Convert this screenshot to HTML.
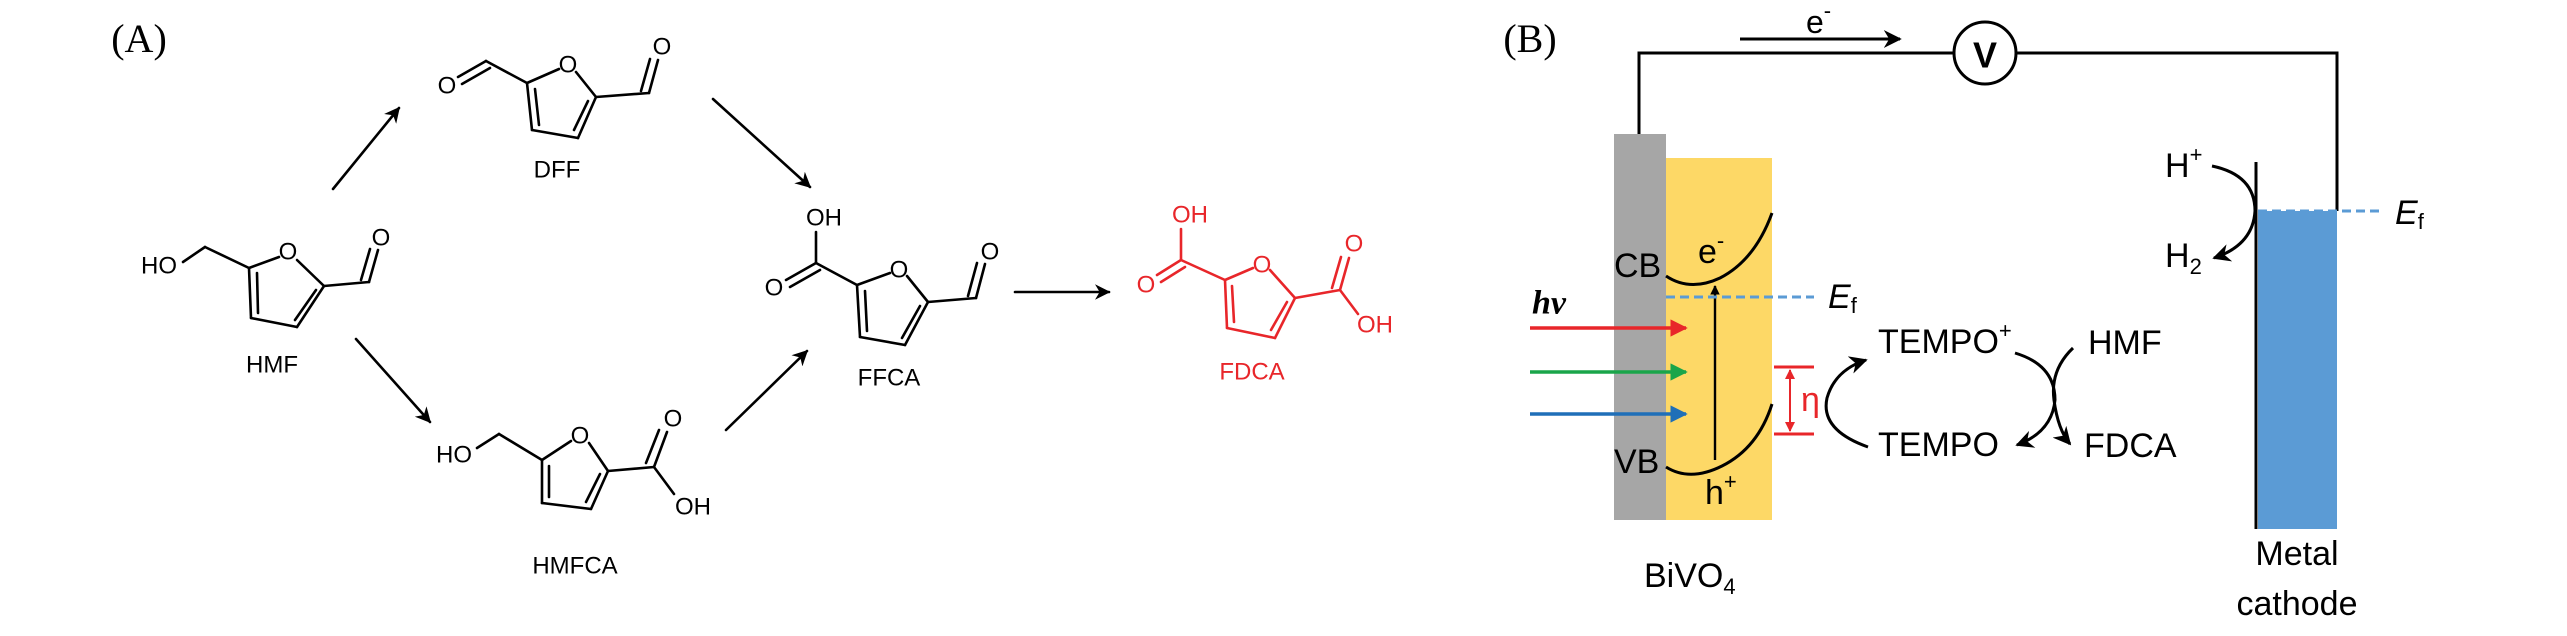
<!DOCTYPE html>
<html><head><meta charset="utf-8"><style>
html,body{margin:0;padding:0;background:#fff;}
svg{display:block;}
text{font-family:"Liberation Sans",sans-serif;}
</style></head><body>
<svg width="2567" height="636" viewBox="0 0 2567 636" xmlns="http://www.w3.org/2000/svg">
<defs>
<marker id="ah" viewBox="0 0 10 10" refX="9" refY="5" markerWidth="6" markerHeight="6" orient="auto-start-reverse" markerUnits="strokeWidth"><path d="M0,0 L10,5 L0,10 L3,5 z" fill="#000"/></marker>
<marker id="ahr" viewBox="0 0 10 10" refX="9" refY="5" markerWidth="5" markerHeight="5" orient="auto-start-reverse" markerUnits="strokeWidth"><path d="M0,0 L10,5 L0,10 z" fill="#e8262a"/></marker>
<marker id="ahg" viewBox="0 0 10 10" refX="9" refY="5" markerWidth="5" markerHeight="5" orient="auto" markerUnits="strokeWidth"><path d="M0,0 L10,5 L0,10 z" fill="#1aa54a"/></marker>
<marker id="ahb" viewBox="0 0 10 10" refX="9" refY="5" markerWidth="5" markerHeight="5" orient="auto" markerUnits="strokeWidth"><path d="M0,0 L10,5 L0,10 z" fill="#1f6fb8"/></marker>
<marker id="ahs" viewBox="0 0 10 10" refX="9" refY="5" markerWidth="4" markerHeight="4" orient="auto" markerUnits="strokeWidth"><path d="M0,0 L10,5 L0,10 z" fill="#000"/></marker>
</defs>

<!-- Panel A -->
<text x="139" y="52" font-size="40" text-anchor="middle" style="font-family:'Liberation Serif',serif">(A)</text>

<g stroke="#000" stroke-width="2.6" fill="none" stroke-linecap="round">
<!-- HMF -->
<line x1="249" y1="268" x2="279" y2="257"/><line x1="297" y1="260" x2="324" y2="286"/>
<line x1="324" y1="286" x2="297" y2="327"/><line x1="316" y1="290" x2="295" y2="320"/>
<line x1="297" y1="327" x2="251" y2="318"/><line x1="251" y1="318" x2="249" y2="268"/><line x1="258" y1="313" x2="257" y2="273"/>
<line x1="249" y1="268" x2="205" y2="247"/><line x1="205" y1="247" x2="183" y2="262"/>
<line x1="324" y1="286" x2="369" y2="282"/><line x1="369" y1="282" x2="378" y2="250"/><line x1="361" y1="280" x2="370" y2="249"/>
<!-- DFF -->
<line x1="527" y1="83" x2="559" y2="69"/><line x1="576" y1="72" x2="596" y2="97"/>
<line x1="596" y1="97" x2="578" y2="138"/><line x1="588" y1="101" x2="574" y2="130"/>
<line x1="578" y1="138" x2="532" y2="130"/><line x1="532" y1="130" x2="527" y2="83"/><line x1="539" y1="125" x2="535" y2="89"/>
<line x1="527" y1="83" x2="486" y2="61"/><line x1="486" y1="61" x2="458" y2="77"/><line x1="490" y1="68" x2="462" y2="84"/>
<line x1="596" y1="97" x2="649" y2="93"/><line x1="649" y1="93" x2="658" y2="60"/><line x1="641" y1="91" x2="650" y2="59"/>
<!-- HMFCA -->
<line x1="542" y1="460" x2="571" y2="441"/><line x1="589" y1="443" x2="608" y2="471"/>
<line x1="608" y1="471" x2="591" y2="509"/><line x1="600" y1="474" x2="586" y2="502"/>
<line x1="591" y1="509" x2="542" y2="503"/><line x1="542" y1="503" x2="542" y2="460"/><line x1="549" y1="497" x2="549" y2="466"/>
<line x1="542" y1="460" x2="499" y2="434"/><line x1="499" y1="434" x2="477" y2="448"/>
<line x1="608" y1="471" x2="654" y2="467"/><line x1="654" y1="467" x2="667" y2="432"/><line x1="646" y1="463" x2="659" y2="430"/>
<line x1="654" y1="467" x2="674" y2="494"/>
<!-- FFCA -->
<line x1="857" y1="285" x2="890" y2="273"/><line x1="907" y1="276" x2="928" y2="302"/>
<line x1="928" y1="302" x2="905" y2="345"/><line x1="920" y1="306" x2="902" y2="338"/>
<line x1="905" y1="345" x2="860" y2="337"/><line x1="860" y1="337" x2="857" y2="285"/><line x1="867" y1="331" x2="865" y2="291"/>
<line x1="857" y1="285" x2="816" y2="263"/><line x1="816" y1="263" x2="816" y2="232"/>
<line x1="816" y1="263" x2="786" y2="280"/><line x1="820" y1="270" x2="790" y2="287"/>
<line x1="928" y1="302" x2="976" y2="298"/><line x1="976" y1="298" x2="985" y2="264"/><line x1="968" y1="296" x2="977" y2="263"/>
<!-- arrows A -->
<line x1="333" y1="189" x2="399" y2="108" marker-end="url(#ah)"/>
<line x1="356" y1="339" x2="430" y2="422" marker-end="url(#ah)"/>
<line x1="713" y1="99" x2="810" y2="187" marker-end="url(#ah)"/>
<line x1="726" y1="430" x2="807" y2="351" marker-end="url(#ah)"/>
<line x1="1015" y1="292" x2="1109" y2="292" marker-end="url(#ah)"/>
</g>
<g stroke="#e8262a" stroke-width="2.6" fill="none" stroke-linecap="round">
<line x1="1225" y1="280" x2="1253" y2="268"/><line x1="1270" y1="270" x2="1295" y2="298"/>
<line x1="1295" y1="298" x2="1275" y2="338"/><line x1="1287" y1="302" x2="1271" y2="330"/>
<line x1="1275" y1="338" x2="1227" y2="328"/><line x1="1227" y1="328" x2="1225" y2="280"/><line x1="1234" y1="322" x2="1232" y2="286"/>
<line x1="1225" y1="280" x2="1181" y2="260"/><line x1="1181" y1="260" x2="1181" y2="229"/>
<line x1="1181" y1="260" x2="1157" y2="275"/><line x1="1185" y1="267" x2="1161" y2="282"/>
<line x1="1295" y1="298" x2="1340" y2="290"/><line x1="1340" y1="290" x2="1349" y2="258"/><line x1="1332" y1="288" x2="1341" y2="257"/>
<line x1="1340" y1="290" x2="1358" y2="314"/>
</g>
<g font-size="24" dominant-baseline="central" fill="#000">
<text x="288" y="252" text-anchor="middle">O</text>
<text x="177" y="266" text-anchor="end">HO</text>
<text x="381" y="238" text-anchor="middle">O</text>
<text x="272" y="365" text-anchor="middle">HMF</text>
<text x="568" y="65" text-anchor="middle">O</text>
<text x="447" y="86" text-anchor="middle">O</text>
<text x="662" y="47" text-anchor="middle">O</text>
<text x="557" y="170" text-anchor="middle">DFF</text>
<text x="580" y="436" text-anchor="middle">O</text>
<text x="472" y="455" text-anchor="end">HO</text>
<text x="673" y="419" text-anchor="middle">O</text>
<text x="693" y="507" text-anchor="middle">OH</text>
<text x="575" y="566" text-anchor="middle">HMFCA</text>
<text x="899" y="270" text-anchor="middle">O</text>
<text x="824" y="218" text-anchor="middle">OH</text>
<text x="774" y="288" text-anchor="middle">O</text>
<text x="990" y="252" text-anchor="middle">O</text>
<text x="889" y="378" text-anchor="middle">FFCA</text>
</g>
<g font-size="24" dominant-baseline="central" fill="#e8262a">
<text x="1262" y="265" text-anchor="middle">O</text>
<text x="1190" y="215" text-anchor="middle">OH</text>
<text x="1146" y="285" text-anchor="middle">O</text>
<text x="1354" y="244" text-anchor="middle">O</text>
<text x="1375" y="325" text-anchor="middle">OH</text>
<text x="1252" y="372" text-anchor="middle">FDCA</text>
</g>

<!-- Panel B -->
<text x="1530" y="52" font-size="40" text-anchor="middle" style="font-family:'Liberation Serif',serif">(B)</text>
<rect x="1666" y="158" width="106" height="362" fill="#fdd866"/>
<rect x="1614" y="134" width="52" height="386" fill="#a6a6a6"/>
<rect x="2258" y="211" width="79" height="318" fill="#5b9bd5"/>
<g stroke="#000" stroke-width="3" fill="none">
<polyline points="1639,134 1639,53 1954,53"/>
<polyline points="2016,53 2337,53 2337,211"/>
<circle cx="1985" cy="53" r="31"/>
<line x1="1740" y1="39" x2="1900" y2="39" marker-end="url(#ah)"/>
<line x1="2256" y1="162" x2="2256" y2="529"/>
<path d="M1666,276 Q1690,292 1720,278 Q1755,260 1772,213"/>
<path d="M1666,467 Q1690,482 1722,466 Q1758,448 1772,404"/>
<line x1="1715" y1="460" x2="1715" y2="286" stroke-width="2.4" marker-end="url(#ahs)"/>
<path d="M1868,447 Q1820,430 1827,398 Q1835,370 1866,360" marker-end="url(#ah)"/>
<path d="M2015,353 Q2055,365 2055,400 Q2052,432 2017,445" marker-end="url(#ah)"/>
<path d="M2073,348 Q2050,370 2054,400 Q2058,430 2070,444" marker-end="url(#ah)"/>
<path d="M2212,166 Q2255,175 2255,211 Q2253,245 2214,258" marker-end="url(#ah)"/>
</g>
<line x1="1666" y1="297" x2="1814" y2="297" stroke="#5b9bd5" stroke-width="3" stroke-dasharray="9,5"/>
<line x1="2258" y1="211" x2="2383" y2="211" stroke="#5b9bd5" stroke-width="3" stroke-dasharray="9,5"/>
<line x1="1530" y1="328" x2="1686" y2="328" stroke="#e8262a" stroke-width="3.5" marker-end="url(#ahr)"/>
<line x1="1530" y1="372" x2="1686" y2="372" stroke="#1aa54a" stroke-width="3.5" marker-end="url(#ahg)"/>
<line x1="1530" y1="414" x2="1686" y2="414" stroke="#1f6fb8" stroke-width="3.5" marker-end="url(#ahb)"/>
<g stroke="#e8262a" stroke-width="3">
<line x1="1774" y1="367" x2="1814" y2="367"/><line x1="1774" y1="434" x2="1814" y2="434"/>
<line x1="1790" y1="370" x2="1790" y2="431" marker-start="url(#ahr)" marker-end="url(#ahr)" stroke-width="2"/>
</g>
<g font-size="34" dominant-baseline="central" fill="#000">
<text x="1806" y="22" font-size="32">e<tspan dy="-12" font-size="22">-</tspan></text>
<text x="1985" y="55" text-anchor="middle" font-weight="bold" font-size="36">V</text>
<text x="1614" y="266">CB</text>
<text x="1614" y="462">VB</text>
<text x="1698" y="252">e<tspan dy="-12" font-size="22">-</tspan></text>
<text x="1705" y="493">h<tspan dy="-12" font-size="22">+</tspan></text>
<text x="1549" y="303" text-anchor="middle" style="font-family:'Liberation Serif',serif;font-style:italic;font-weight:bold">hv</text>
<text x="1828" y="297" font-style="italic">E<tspan dy="8" font-size="22" font-style="normal">f</tspan></text>
<text x="2395" y="213" font-style="italic">E<tspan dy="8" font-size="22" font-style="normal">f</tspan></text>
<text x="1801" y="400" fill="#e8262a">η</text>
<text x="1878" y="342">TEMPO<tspan dy="-12" font-size="22">+</tspan></text>
<text x="2088" y="343">HMF</text>
<text x="1878" y="445">TEMPO</text>
<text x="2084" y="446">FDCA</text>
<text x="2165" y="166">H<tspan dy="-12" font-size="22">+</tspan></text>
<text x="2165" y="256">H<tspan dy="10" font-size="22">2</tspan></text>
<text x="1644" y="576">BiVO<tspan dy="10" font-size="22">4</tspan></text>
<text x="2297" y="554" text-anchor="middle">Metal</text>
<text x="2297" y="604" text-anchor="middle">cathode</text>
</g>
</svg>
</body></html>
